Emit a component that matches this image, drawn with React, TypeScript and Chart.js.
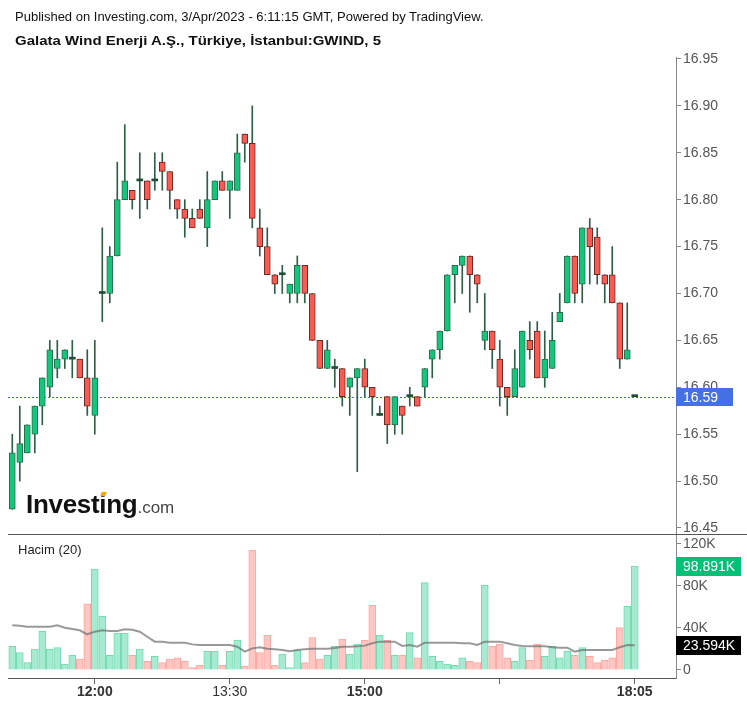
import React, { useEffect, useRef } from 'react';
import { Chart, registerables } from 'chart.js';

Chart.register(...registerables);

// 5-minute bars, index 0 .. 83 (last bar = 18:05 closing print)
const opens = [
  16.47, 16.52, 16.53, 16.55, 16.58, 16.60, 16.62, 16.63, 16.63, 16.63,
  16.61, 16.57, 16.70, 16.70, 16.74, 16.80, 16.81, 16.82, 16.82, 16.82,
  16.84, 16.83, 16.80, 16.79, 16.78, 16.79, 16.77, 16.80, 16.82, 16.81,
  16.81, 16.87, 16.86, 16.77, 16.75, 16.72, 16.72, 16.70, 16.70, 16.73,
  16.70, 16.65, 16.62, 16.62, 16.62, 16.60, 16.61, 16.62, 16.60, 16.57,
  16.59, 16.56, 16.58, 16.59, 16.59, 16.60, 16.63, 16.64, 16.66, 16.72,
  16.73, 16.74, 16.72, 16.65, 16.66, 16.63, 16.60, 16.59, 16.60, 16.65,
  16.66, 16.61, 16.62, 16.67, 16.69, 16.74, 16.71, 16.77, 16.76, 16.72,
  16.72, 16.69, 16.63, 16.59,
];
const highs = [
  16.55, 16.58, 16.56, 16.58, 16.61, 16.65, 16.65, 16.64, 16.65, 16.63,
  16.64, 16.65, 16.77, 16.75, 16.84, 16.88, 16.81, 16.85, 16.82, 16.85,
  16.85, 16.83, 16.80, 16.80, 16.79, 16.80, 16.83, 16.82, 16.83, 16.82,
  16.87, 16.87, 16.90, 16.79, 16.77, 16.72, 16.73, 16.71, 16.74, 16.73,
  16.70, 16.65, 16.65, 16.63, 16.62, 16.61, 16.62, 16.63, 16.60, 16.58,
  16.59, 16.59, 16.58, 16.60, 16.59, 16.62, 16.64, 16.66, 16.72, 16.73,
  16.74, 16.74, 16.72, 16.70, 16.66, 16.65, 16.60, 16.64, 16.66, 16.67,
  16.67, 16.66, 16.68, 16.70, 16.74, 16.74, 16.77, 16.78, 16.77, 16.72,
  16.75, 16.69, 16.69, 16.59,
];
const lows = [
  16.47, 16.50, 16.53, 16.53, 16.56, 16.59, 16.61, 16.62, 16.61, 16.61,
  16.57, 16.55, 16.67, 16.69, 16.74, 16.80, 16.79, 16.78, 16.79, 16.81,
  16.81, 16.79, 16.78, 16.76, 16.77, 16.78, 16.75, 16.80, 16.81, 16.78,
  16.81, 16.84, 16.77, 16.74, 16.72, 16.70, 16.70, 16.69, 16.69, 16.69,
  16.65, 16.62, 16.62, 16.60, 16.58, 16.57, 16.51, 16.59, 16.57, 16.57,
  16.54, 16.55, 16.55, 16.58, 16.58, 16.59, 16.61, 16.63, 16.66, 16.69,
  16.70, 16.68, 16.69, 16.64, 16.62, 16.58, 16.57, 16.59, 16.60, 16.63,
  16.61, 16.60, 16.62, 16.67, 16.69, 16.69, 16.69, 16.71, 16.71, 16.69,
  16.69, 16.62, 16.63, 16.59,
];
const closes = [
  16.53, 16.54, 16.56, 16.58, 16.61, 16.64, 16.63, 16.64, 16.63, 16.61,
  16.58, 16.61, 16.70, 16.74, 16.80, 16.82, 16.80, 16.82, 16.80, 16.82,
  16.83, 16.81, 16.79, 16.78, 16.77, 16.78, 16.80, 16.82, 16.81, 16.82,
  16.85, 16.86, 16.78, 16.75, 16.72, 16.71, 16.72, 16.71, 16.73, 16.70,
  16.65, 16.62, 16.64, 16.62, 16.59, 16.61, 16.62, 16.60, 16.59, 16.57,
  16.56, 16.59, 16.57, 16.59, 16.58, 16.62, 16.64, 16.66, 16.72, 16.73,
  16.74, 16.72, 16.71, 16.66, 16.64, 16.60, 16.59, 16.62, 16.66, 16.64,
  16.61, 16.63, 16.65, 16.68, 16.74, 16.70, 16.77, 16.75, 16.72, 16.71,
  16.69, 16.63, 16.64, 16.59,
];
// volume in thousands
const volumes = [
  22.5, 16.5, 7.0, 20.0, 36.8, 20.0, 21.3, 5.7, 14.0, 10.5,
  62.9, 96.2, 51.1, 14.0, 35.2, 35.2, 14.0, 20.0, 8.3, 13.0,
  7.0, 10.5, 11.7, 8.3, 2.2, 4.4, 17.8, 17.8, 4.4, 17.8,
  28.6, 3.5, 114.3, 16.5, 33.0, 4.4, 15.2, 2.2, 19.0, 7.0,
  30.8, 10.3, 14.0, 22.5, 29.5, 15.2, 24.8, 28.3, 61.6, 33.0,
  28.3, 14.0, 14.0, 35.6, 11.7, 83.2, 13.0, 8.3, 5.7, 4.4,
  11.7, 8.3, 7.0, 80.6, 22.5, 24.8, 11.7, 8.3, 21.3, 9.2,
  24.8, 13.0, 22.5, 11.7, 17.8, 14.0, 21.3, 13.0, 7.0, 9.2,
  11.7, 40.3, 60.6, 98.891,
];
// 20-period volume moving average (thousands)
const volumeMA = [
  42.5, 42.2, 41.3, 41.3, 41.3, 41.3, 42.5, 40.3, 39.0, 37.8,
  34.0, 36.5, 37.8, 37.1, 37.1, 38.7, 38.4, 36.5, 31.7, 27.0,
  27.0, 26.0, 26.0, 26.0, 24.4, 23.8, 23.8, 23.8, 23.8, 23.8,
  22.2, 17.5, 20.6, 21.6, 20.3, 19.7, 19.0, 17.8, 19.0, 19.7,
  20.3, 20.3, 20.3, 20.9, 22.2, 22.2, 22.5, 23.2, 25.4, 27.0,
  27.0, 27.0, 22.9, 23.8, 22.2, 26.0, 26.0, 26.0, 26.0, 26.0,
  25.4, 25.4, 23.8, 27.0, 27.0, 27.0, 25.4, 23.8, 22.9, 22.5,
  22.5, 22.5, 21.6, 21.3, 21.3, 17.5, 19.0, 19.0, 19.0, 19.0,
  19.0, 21.6, 23.8, 23.594,
];

const xTickIndex = [11, 29, 47, 65, 83];
const xTickText = ['12:00', '13:30', '15:00', '', '18:05'];
const xTickBold = [true, false, true, false, true];
const priceTicks = [16.45, 16.5, 16.55, 16.6, 16.65, 16.7, 16.75, 16.8, 16.85, 16.9, 16.95];
const volumeTicks = [0, 40, 80, 120];

const FONT = '"Liberation Sans", Arial, sans-serif';
const UP_FILL = '#14c67b';
const UP_BORDER = '#2a6b4b';
const DOWN_FILL = '#f85b51';
const DOWN_BORDER = '#6b2622';
const DOJI = '#1f4d37';
const WICK = '#2f5e46';

const isUp = (i: number) => closes[i] >= opens[i];

const overlayPlugin = {
  id: 'overlay',
  beforeDatasetsDraw(chart: any) {
    const { ctx, chartArea, scales } = chart;
    const last = closes.length - 1;
    const y = Math.round(scales.y.getPixelForValue(closes[last])) + 0.5;
    ctx.save();
    ctx.strokeStyle = '#3f67e0';
    ctx.lineWidth = 1;
    ctx.setLineDash([2, 2]);
    ctx.beginPath();
    ctx.moveTo(chartArea.left, y);
    ctx.lineTo(chartArea.right, y);
    ctx.stroke();
    ctx.restore();
  },
  afterDraw(chart: any) {
    const { ctx, chartArea, scales, width } = chart;
    const last = closes.length - 1;
    ctx.save();
    const sy = Math.round(scales.yv.top) + 0.5;
    ctx.strokeStyle = '#555';
    ctx.lineWidth = 1;
    ctx.beginPath();
    ctx.moveTo(chartArea.left, sy);
    ctx.lineTo(width, sy);
    ctx.stroke();

    const box = (scale: any, value: number, text: string, bg: string, w: number, h: number) => {
      const yy = scale.getPixelForValue(value);
      const top = Math.round(yy - h / 2);
      ctx.fillStyle = bg;
      ctx.fillRect(Math.round(chartArea.right), top, w, h);
      ctx.fillStyle = '#ffffff';
      ctx.font = `14px ${FONT}`;
      ctx.textAlign = 'left';
      ctx.textBaseline = 'middle';
      ctx.fillText(text, chartArea.right + 7, top + h / 2 + 1);
    };
    box(scales.y, closes[last], closes[last].toFixed(2), '#4470e4', 57, 18);
    box(scales.yv, volumes[last], volumes[last].toFixed(3) + 'K', '#00c176', 65, 19);
    box(scales.yv, volumeMA[last], volumeMA[last].toFixed(3) + 'K', '#000000', 65, 19);
    ctx.restore();
  },
};

export default function App() {
  const canvasRef = useRef<HTMLCanvasElement | null>(null);

  useEffect(() => {
    const canvas = canvasRef.current;
    if (!canvas) return;
    const idx = opens.map((_, i) => i);

    const chart = new Chart(canvas, {
      type: 'bar',
      data: {
        datasets: [
          {
            type: 'line',
            label: 'Hacim MA',
            data: idx.map((i) => ({ x: i, y: volumeMA[i] })),
            yAxisID: 'yv',
            borderColor: 'rgba(110,110,110,0.7)',
            borderWidth: 2,
            pointRadius: 0,
            tension: 0,
            order: 0,
          } as any,
          {
            type: 'bar',
            label: 'body',
            data: idx.map((i) => ({ x: i, y: [opens[i], closes[i]] })),
            yAxisID: 'y',
            grouped: false,
            barThickness: 6,
            minBarLength: 2,
            borderSkipped: false,
            backgroundColor: (c: any) => {
              const i = c.dataIndex;
              if (i === undefined) return UP_FILL;
              if (opens[i] === closes[i]) return DOJI;
              return closes[i] > opens[i] ? UP_FILL : DOWN_FILL;
            },
            borderColor: (c: any) => {
              const i = c.dataIndex;
              if (i === undefined) return UP_BORDER;
              return isUp(i) ? UP_BORDER : DOWN_BORDER;
            },
            borderWidth: (c: any) => {
              const i = c.dataIndex;
              if (i === undefined) return 1;
              return opens[i] === closes[i] ? 0 : 1;
            },
            order: 1,
          } as any,
          {
            type: 'bar',
            label: 'wick',
            data: idx.map((i) => ({ x: i, y: [lows[i], highs[i]] })),
            yAxisID: 'y',
            grouped: false,
            barThickness: 1,
            backgroundColor: WICK,
            borderWidth: 0,
            order: 2,
          } as any,
          {
            type: 'bar',
            label: 'Hacim',
            data: idx.map((i) => ({ x: i, y: volumes[i] })),
            yAxisID: 'yv',
            grouped: false,
            barThickness: 7,
            borderSkipped: 'start',
            borderWidth: 1,
            backgroundColor: (c: any) => {
              const i = c.dataIndex;
              if (i === undefined) return '#a6ebd1';
              return isUp(i) ? '#a6ebd1' : '#ffc6c2';
            },
            borderColor: (c: any) => {
              const i = c.dataIndex;
              if (i === undefined) return '#72dbb0';
              return isUp(i) ? '#72dbb0' : '#ffa7a1';
            },
            order: 3,
          } as any,
        ],
      },
      options: {
        responsive: false,
        animation: false,
        devicePixelRatio: 1,
        layout: { padding: { top: 57, left: 8, right: 0, bottom: 0 } },
        plugins: {
          legend: { display: false },
          tooltip: { enabled: false },
        },
        scales: {
          x: {
            type: 'linear',
            min: -0.573,
            max: 88.5,
            offset: false,
            afterBuildTicks: (s: any) => {
              s.ticks = xTickIndex.map((v) => ({ value: v }));
            },
            afterFit: (s: any) => {
              s.height = 29;
            },
            ticks: {
              autoSkip: false,
              maxRotation: 0,
              padding: 0,
              color: '#333',
              font: (c: any) => ({
                family: FONT,
                size: 14,
                weight: xTickBold[c.index] ? 'bold' : 'normal',
              }),
              callback: (v: any) => {
                const k = xTickIndex.indexOf(Number(v));
                return k >= 0 ? xTickText[k] : null;
              },
            },
            grid: { display: true, drawOnChartArea: false, drawTicks: true, tickLength: 6, color: '#666', offset: false },
            border: { display: true, color: '#555', width: 1 },
          } as any,
          y: {
            type: 'linear',
            position: 'right',
            stack: 'panes',
            stackWeight: 477,
            weight: 1,
            min: 16.4436,
            max: 16.9521,
            afterBuildTicks: (s: any) => {
              s.ticks = priceTicks.map((v) => ({ value: v }));
            },
            afterFit: (s: any) => {
              s.width = 71;
            },
            ticks: {
              color: '#555',
              padding: 2,
              font: { family: FONT, size: 14 },
              callback: (v: any) => Number(v).toFixed(2),
            },
            grid: { drawOnChartArea: false, drawTicks: true, tickLength: 5, color: '#888' },
            border: { display: true, color: '#888', width: 1 },
          } as any,
          yv: {
            type: 'linear',
            position: 'right',
            stack: 'panes',
            stackWeight: 144,
            weight: 2,
            min: -7.62,
            max: 129.52,
            afterBuildTicks: (s: any) => {
              s.ticks = volumeTicks.map((v) => ({ value: v }));
            },
            afterFit: (s: any) => {
              s.width = 71;
            },
            ticks: {
              color: '#555',
              padding: 2,
              font: { family: FONT, size: 14 },
              callback: (v: any) => (Number(v) === 0 ? '0' : `${v}K`),
            },
            grid: { drawOnChartArea: false, drawTicks: true, tickLength: 5, color: '#888' },
            border: { display: true, color: '#888', width: 1 },
          } as any,
        },
      },
      plugins: [overlayPlugin],
    } as any);

    return () => chart.destroy();
  }, []);

  return (
    <div style={{ position: 'absolute', left: 0, top: 0, width: 747, height: 707, background: '#fff', fontFamily: FONT }}>
      <canvas ref={canvasRef} width={747} height={707} style={{ position: 'absolute', left: 0, top: 0, width: 747, height: 707 }} />
      <div style={{ position: 'absolute', left: 15, top: 9, fontSize: 13, lineHeight: '16px', color: '#111', whiteSpace: 'nowrap', pointerEvents: 'none' }}>
        Published on Investing.com, 3/Apr/2023 - 6:11:15 GMT, Powered by TradingView.
      </div>
      <div style={{ position: 'absolute', left: 15, top: 32, fontSize: 15, lineHeight: '17px', fontWeight: 'bold', color: '#111', whiteSpace: 'nowrap', pointerEvents: 'none', transform: 'scaleY(0.88)', transformOrigin: 'left center' }}>
        Galata Wind Enerji A.Ş., Türkiye, İstanbul:GWIND, 5
      </div>
      <div style={{ position: 'absolute', left: 18, top: 542, fontSize: 13, lineHeight: '16px', color: '#222', whiteSpace: 'nowrap', pointerEvents: 'none' }}>
        Hacim (20)
      </div>
      <div style={{ position: 'absolute', left: 26, top: 491, lineHeight: '26px', whiteSpace: 'nowrap', pointerEvents: 'none' }}>
        <span style={{ fontSize: 26, fontWeight: 'bold', color: '#111', letterSpacing: -0.3 }}>Investing</span>
        <span style={{ fontSize: 17, color: '#444' }}>.com</span>
      </div>
      <div style={{ position: 'absolute', left: 101, top: 492, width: 5, height: 4, background: '#f6a400', transform: 'skewX(-20deg)', pointerEvents: 'none' }} />
    </div>
  );
}
